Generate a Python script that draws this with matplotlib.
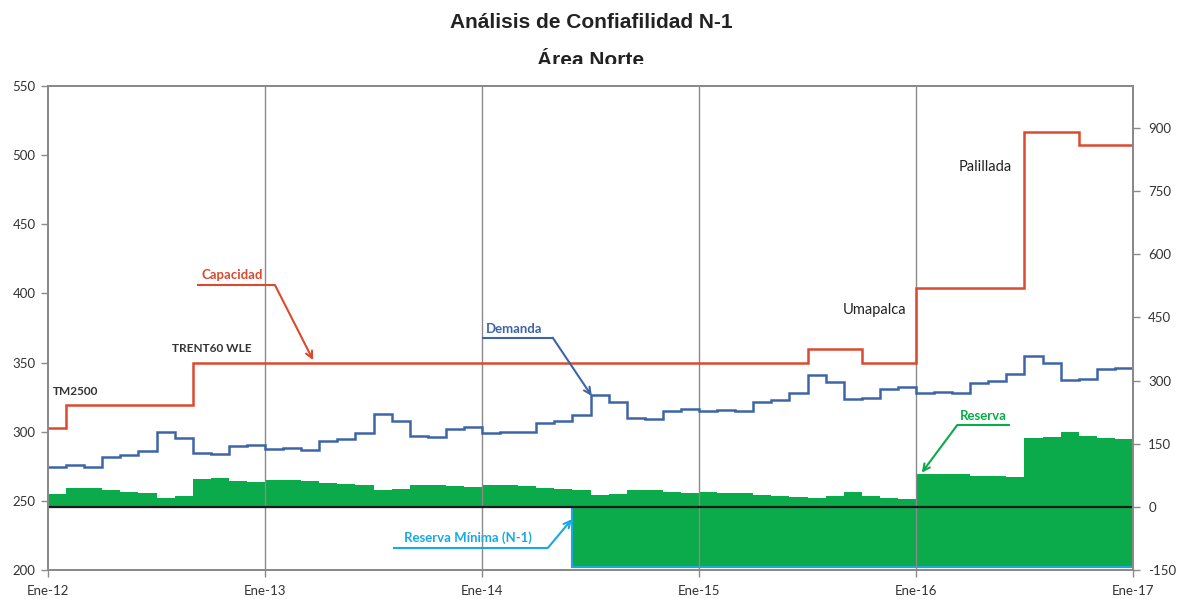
import numpy as np
import matplotlib
matplotlib.use("Agg")
import matplotlib.pyplot as plt
from matplotlib.transforms import Bbox, TransformedBbox

plt.rcParams["axes.unicode_minus"] = False

# Datos mensuales Ene-12 .. Dic-16 (60 meses)
etiquetas_x = ["Ene-12", "Ene-13", "Ene-14", "Ene-15", "Ene-16", "Ene-17"]

capacidad = [303, 319, 319, 319, 319, 319, 319, 319, 350, 350, 350, 350,
             350, 350, 350, 350, 350, 350, 350, 350, 350, 350, 350, 350,
             350, 350, 350, 350, 350, 350, 350, 350, 350, 350, 350, 350,
             350, 350, 350, 350, 350, 350, 360, 360, 360, 350, 350, 350,
             404, 404, 404, 404, 404, 404, 517, 517, 517, 507, 507, 507]

demanda = [274.7, 275.7, 274.7, 281.5, 282.9, 286.3, 299.8, 295.4, 284.4, 283.9, 289.7, 290.4,
           287.2, 288.0, 286.8, 293.5, 294.9, 298.8, 312.8, 308.0, 296.9, 295.9, 302.2, 303.2,
           298.8, 300.0, 299.6, 306.1, 307.5, 311.8, 326.5, 321.7, 309.7, 308.9, 315.2, 316.2,
           315.0, 315.7, 314.7, 321.7, 322.9, 328.2, 340.8, 335.9, 323.4, 324.6, 331.1, 332.1,
           327.7, 328.9, 328.2, 335.0, 336.4, 341.7, 355.0, 349.9, 337.4, 338.3, 345.1, 346.1]

reserva = [30, 45, 46, 40, 36, 33, 22, 25, 66, 68, 62, 60,
           63, 63, 62, 57, 54, 51, 40, 43, 52, 52, 49, 48,
           51, 52, 50, 46, 43, 40, 29, 30, 40, 41, 35, 33,
           35, 33, 33, 29, 25, 24, 22, 25, 36, 27, 21, 19,
           78, 77, 77, 74, 73, 72, 164, 167, 179, 168, 164, 162]

reserva_minima = [-1, -1, -1, -1, -1, -1, -1, -1, -1, -1, -1, -1,
                  -1, -1, -1, -1, -1, -1, -1, -1, -1, -1, -1, -1,
                  -1, -1, -1, -1, -1, -144, -144, -144, -144, -144, -144, -144,
                  -144, -144, -144, -144, -144, -144, -144, -144, -144, -144, -144, -144,
                  -144, -144, -144, -144, -144, -144, -144, -144, -144, -144, -144, -144]

meses = np.arange(len(demanda) + 1)

ROJO = "#DA4A2E"
AZUL = "#3D65A6"
VERDE = "#0BAA4A"
CELESTE = "#1AA8E2"
GRIS = "#8A8A8A"
TEXTO = "#333333"

fig = plt.figure(figsize=(11.82, 5.99), dpi=100)
ax = fig.add_axes([48 / 1182, 29 / 599, 1085 / 1182, 484 / 599])
ax2 = ax.twinx()

# eje derecho: reserva
ax2.stairs(reserva, meses, baseline=reserva_minima, fill=True, color=VERDE, lw=0, zorder=1)
ax2.stairs(reserva_minima, meses, baseline=None, color=CELESTE, lw=1.5, zorder=2)
ax2.axhline(0, color="#1a1a1a", lw=1.6, zorder=3)
for xv in [12, 24, 36, 48]:
    ax2.axvline(xv, color=GRIS, lw=1, zorder=2.5)
ax2.set_ylim(-150, 1000)
ax2.set_yticks([-150, 0, 150, 300, 450, 600, 750, 900])

# eje izquierdo: capacidad y demanda
ax.set_zorder(ax2.get_zorder() + 1)
ax.patch.set_visible(False)
ax.stairs(capacidad, meses, baseline=None, color=ROJO, lw=1.8)
ax.stairs(demanda, meses, baseline=None, color=AZUL, lw=1.8)
ax.set_xlim(0, 60)
ax.set_ylim(200, 550)
ax.set_yticks(range(200, 551, 50))
ax.set_xticks([0, 12, 24, 36, 48, 60])
ax.set_xticklabels(etiquetas_x)

for a in (ax, ax2):
    for s in a.spines.values():
        s.set_color(GRIS)
        s.set_linewidth(1.4)
    a.tick_params(colors=GRIS, labelcolor=TEXTO, length=5, width=1, labelsize=9.5)
    for lbl in a.get_xticklabels() + a.get_yticklabels():
        lbl.set_fontfamily("Lato")
ax.tick_params(axis="x", pad=6)
ax.tick_params(axis="y", pad=4)
ax2.tick_params(axis="y", pad=6)


def llamada(txt, color, xt, yt, x0, x1, yu, punta, desde):
    ax.text(xt, yt, txt, color=color, ha="center", va="center", fontsize=9.5,
            fontweight="bold", family="Lato")
    ax.plot([x0, x1], [yu, yu], color=color, lw=1.5, solid_capstyle="butt")
    inicio = (x1, yu) if desde == "der" else (x0, yu)
    ax.annotate("", xy=punta, xytext=inicio,
                arrowprops=dict(arrowstyle="->", color=color, lw=1.5,
                                shrinkA=0, shrinkB=0, mutation_scale=12))


llamada("Capacidad", ROJO, 10.2, 413.3, 8.24, 12.55, 406.1, (14.66, 351.8), "der")
llamada("Demanda", AZUL, 25.8, 374.3, 23.99, 27.91, 368.0, (30.07, 325.8), "der")
llamada("Reserva Mínima (N-1)", CELESTE, 23.2, 223.4, 19.08, 27.65, 216.1, (28.97, 236.7), "der")
llamada("Reserva", VERDE, 51.75, 311.4, 50.28, 53.21, 304.8, (48.32, 270.4), "izq")

ax.text(9.04, 360.4, "TRENT60 WLE", color=TEXTO, ha="center", va="center",
        fontsize=8.5, fontweight="bold", family="Lato")
ax.text(1.53, 328.9, "TM2500", color=TEXTO, ha="center", va="center",
        fontsize=8.5, fontweight="bold", family="Lato")
ax.text(45.7, 388.0, "Umapalca", color="#222222", ha="center", va="center",
        fontsize=10.5, family="Lato")
ax.text(51.83, 491.6, "Palillada", color="#222222", ha="center", va="center",
        fontsize=10.5, family="Lato")

# titulo (la segunda linea aparece recortada en el original)
fig.text(0.5, 1 - 23 / 599, "Análisis de Confiafilidad N-1", ha="center", va="center",
         fontsize=15, fontweight="bold", family="Liberation Sans", color="#222222")
t2 = fig.text(0.5, 1 - 66 / 599, "Área Norte", ha="center", va="baseline",
              fontsize=15, fontweight="bold", family="Liberation Sans", color="#222222")
t2.set_clip_box(TransformedBbox(Bbox([[0, (599 - 64) / 599], [1, 1]]), fig.transFigure))
t2.set_clip_on(True)

fig.savefig("out.png", dpi=100, facecolor="white")
